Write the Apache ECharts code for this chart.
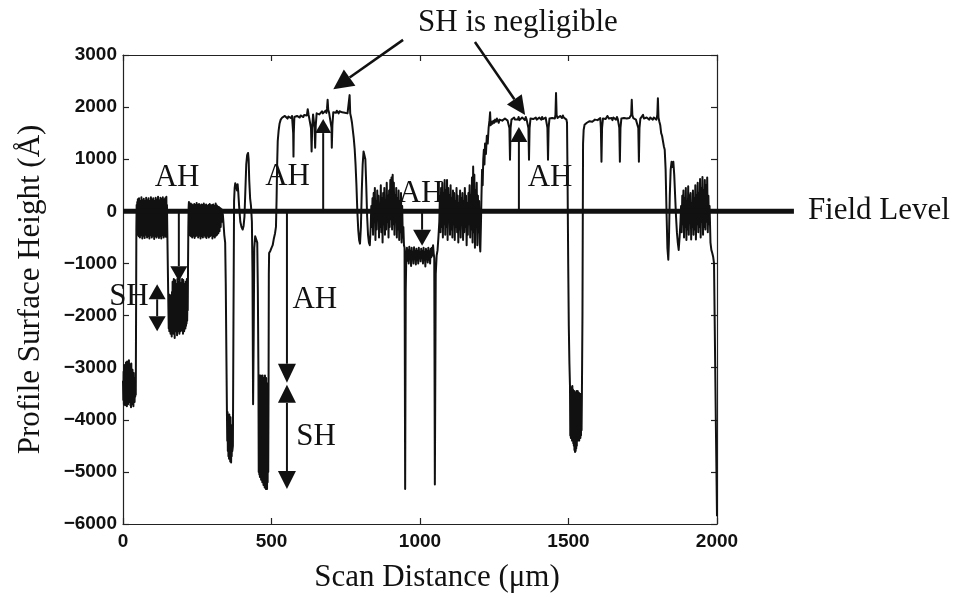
<!DOCTYPE html>
<html>
<head>
<meta charset="utf-8">
<script src="https://cdn.jsdelivr.net/npm/echarts@6/dist/echarts.min.js"></script>
<style>
  html, body { margin: 0; padding: 0; background: #fff; }
  #chart { width: 956px; height: 598px; }
</style>
</head>
<body>
<div id="chart"></div>
<script>
// Surface profile: [scan distance (µm), height (Å)], one array per stretch of the scan.
const leftPit = [
  [0,-3250],[1,-3620],[2,-3080],[3,-3700],[4,-2950],[5,-3560],[6,-3120],[7,-3720],[8,-3020],[9,-3600],
  [10,-2900],[11,-3680],[12,-3100],[13,-3740],[14,-2880],[15,-3580],[16,-3050],[17,-3700],[18,-2980],[19,-3520],
  [20,-2860],[21,-3660],[22,-3120],[23,-3600],[24,-2940],[25,-3720],[26,-3060],[27,-3760],[28,-2920],[29,-3600],
  [30,-3140],[31,-3700],[32,-3040],[33,-3640],[34,-3180],[35,-3740],[36,-3100],[37,-3600],[38,-3200],[39,-3660],
  [40,-3240],[41,-3560],[42,-3300],[43,-3520],[44,-2000],[45,-300],[46,120]
];
const firstBand = [
  [47,-380],[48,180],[49,-450],[50,230],[51,-320],[52,140],[53,-480],[54,250],[55,-360],[56,160],
  [57,-500],[58,200],[59,-300],[60,120],[61,-460],[62,270],[63,-380],[64,150],[65,-520],[66,210],
  [67,-340],[68,130],[69,-470],[70,240],[71,-400],[72,160],[73,-510],[74,200],[75,-330],[76,140],
  [77,-450],[78,260],[79,-390],[80,170],[81,-500],[82,210],[83,-350],[84,120],[85,-480],[86,250],
  [87,-410],[88,150],[89,-520],[90,200],[91,-360],[92,160],[93,-460],[94,270],[95,-380],[96,140],
  [97,-500],[98,220],[99,-340],[100,150],[101,-470],[102,250],[103,-400],[104,170],[105,-530],[106,200],
  [107,-350],[108,130],[109,-480],[110,260],[111,-390],[112,160],[113,-500],[114,220],[115,-360],[116,140],
  [117,-470],[118,280],[119,-420],[120,170],[121,-510],[122,210],[123,-340],[124,150],[125,-480],[126,260],
  [127,-400],[128,160],[129,-520],[130,230],[131,-370],[132,140],[133,-460],[134,270],[135,-390],[136,180],
  [137,-500],[138,220],[139,-350],[140,150],[141,-470],[142,250],[143,-410],[144,170],[145,-490],[146,280],
  [147,-380],[148,120],[149,-300],[150,-700],[151,-1100],[152,-1500],[153,-1900]
];
const shallowPit = [
  [154,-2250],[155,-1650],[156,-2300],[157,-1600],[158,-2200],[159,-1700],[160,-2350],[161,-1620],[162,-2250],[163,-1680],
  [164,-2400],[165,-1550],[166,-2300],[167,-1350],[168,-2200],[169,-1600],[170,-2350],[171,-1300],[172,-2250],[173,-1650],
  [174,-2430],[175,-1320],[176,-2200],[177,-1600],[178,-2300],[179,-1400],[180,-2250],[181,-1650],[182,-2380],[183,-1300],
  [184,-2200],[185,-1700],[186,-2300],[187,-1350],[188,-2250],[189,-1620],[190,-2350],[191,-1300],[192,-2150],[193,-1650],
  [194,-2300],[195,-1380],[196,-2200],[197,-1700],[198,-2280],[199,-1300],[200,-2250],[201,-1600],[202,-2350],[203,-1320],
  [204,-2200],[205,-1650],[206,-2300],[207,-1400],[208,-2150],[209,-1700],[210,-2250],[211,-1350],[212,-2200],[213,-1600],
  [214,-2150],[215,-1300],[216,-2100],[217,-1650],[218,-1900],[219,-1000],[220,-300],[221,80],[222,180]
];
const secondBand = [
  [223,-350],[224,120],[225,-460],[226,90],[227,-300],[228,150],[229,-480],[230,60],[231,-380],[232,130],
  [233,-500],[234,80],[235,-340],[236,110],[237,-470],[238,40],[239,-400],[240,140],[241,-510],[242,70],
  [243,-360],[244,120],[245,-480],[246,90],[247,-320],[248,160],[249,-460],[250,50],[251,-390],[252,120],
  [253,-500],[254,80],[255,-350],[256,140],[257,-470],[258,60],[259,-410],[260,110],[261,-520],[262,90],
  [263,-340],[264,130],[265,-480],[266,40],[267,-380],[268,120],[269,-500],[270,70],[271,-360],[272,150],
  [273,-460],[274,80],[275,-330],[276,110],[277,-490],[278,60],[279,-400],[280,130],[281,-510],[282,90],
  [283,-350],[284,100],[285,-470],[286,50],[287,-390],[288,120],[289,-500],[290,80],[291,-340],[292,140],
  [293,-480],[294,70],[295,-370],[296,110],[297,-460],[298,40],[299,-410],[300,120],[301,-520],[302,90],
  [303,-360],[304,130],[305,-480],[306,60],[307,-390],[308,100],[309,-500],[310,80],[311,-350],[312,150],
  [313,-470],[314,70],[315,-380],[316,110],[317,-450],[318,60],[319,-300],[320,90],[321,-420],[322,50],
  [323,-250],[324,80],[325,-380],[326,30],[327,-200],[328,60],[329,-300],[330,20],[331,-150],[332,40],
  [333,-200],[334,0],[335,-100],[336,-50]
];
const deepTrenches = [
  [338,-200],[341,-450],[344,-600],[346,-1400],[348,-2700],[350,-3900],[351,-4400],[352,-3850],[353,-4600],[354,-3900],
  [355,-4700],[356,-3950],[357,-4750],[358,-3900],[359,-4650],[360,-4000],[361,-4800],[362,-3950],[363,-4750],[364,-4820],
  [365,-4100],[366,-4700],[367,-4300],[368,-4600],[370,-4500],[372,-2000],[374,200],[376,450],[378,540],[380,560],
  [382,450],[384,400],[386,520],[388,380],[391,100],[395,-200],[399,-300],[403,-350],[406,-280],[409,-100],
  [412,400],[415,900],[418,1080],[421,1120],[423,1000],[425,600],[428,250],[431,100],[434,-200],[436,-1200],
  [438,-3700],[440,-2400],[442,-700],[445,-480],[449,-500],[452,-600],[454,-1500],[456,-3100],[457,-5000],
  [458,-3200],[459,-5050],[460,-3150],[461,-5100],[462,-3250],[463,-5000],[464,-3150],[465,-5150],[466,-3300],[467,-5100],
  [468,-3200],[469,-5200],[470,-3150],[471,-5150],[472,-3250],[473,-5250],[474,-3200],[475,-5200],[476,-3300],[477,-5300],
  [478,-3150],[479,-5250],[480,-3250],[481,-5330],[482,-3200],[483,-5280],[484,-3300],[485,-5330],[486,-3400],[487,-5200],
  [488,-4000],[489,-5000],[490,-3500],[491,-1200],[492,-800],[496,-760],[500,-700],[504,-650],[508,-520],[512,-420],
  [515,-300],[517,200],[519,900],[521,1350],[524,1550],[527,1680],[531,1760],[536,1800]
];
const plateauOne = [
  [539,1820],[542,1790],[545,1830],[548,1800],[551,1840],[554,1780],[557,1820],[560,1800],[563,1850],[566,1790],
  [569,1830],[571,1800],[573,1500],[574,1050],[575,1500],[577,1810],[580,1840],[583,1790],[586,1830],[589,1810],
  [592,1860],[595,1800],[598,1840],[601,1820],[604,1870],[607,1810],[610,1850],[613,1830],[616,1880],[619,1840],
  [622,1960],[625,1850],[628,1880],[631,1830],[633,1600],[635,1150],[637,1600],[640,1860],[643,1830],[645,1600],
  [647,1220],[649,1650],[652,1880],[655,1850],[658,1900],[661,1860],[664,1890],[667,1870],[670,1920],[673,1880],
  [676,1900],[679,1860],[682,1930],[685,1890],[687,1980],[689,2140],[691,1950],[694,1890],[697,1920],[700,1870],
  [702,1600],[703,1220],[705,1650],[708,1900],[711,1880],[714,1920],[717,1890],[720,1930],[723,1900],[726,1880],
  [729,1920],[732,1890],[735,1930],[738,1900],[741,1880],[744,1910],[747,1890],[750,1920],[753,1900],[756,1880],
  [759,1910],[761,1890],[763,2230],[765,1880],[768,1800],[771,1700],[774,1550],[777,1400],[780,1200],[783,900],
  [786,500],[789,0],[792,-350],[795,-550],[798,-620],[801,-300],[804,400],[807,900],[810,1150],[813,1180],
  [816,1000],[819,500],[822,-100],[825,-450],[828,-600],[831,-650],[834,-300]
];
const roughOne = [
  [836,100],[838,-300],[840,250],[842,-450],[844,350],[846,-200],[848,450],[850,-550],[852,200],[854,-350],
  [856,400],[858,-150],[860,300],[862,-500],[864,150],[866,-300],[868,500],[870,-400],[872,250],[874,-600],
  [876,350],[878,-250],[880,450],[882,-450],[884,200],[886,-350],[888,550],[890,-200],[892,300],[894,-500],
  [896,400],[898,-300],[900,600],[902,-150],[904,650],[906,-350],[908,700],[910,-250],[912,550],[914,-450],
  [916,300],[918,-200],[920,450],[922,-500],[924,250],[926,-350],[928,400],[930,-550],[932,200],[934,-400],
  [936,350],[938,-600],[940,100],[942,-500],[944,-300],[946,-650],[948,-700],[950,-5330],[952,-1500],[954,-800]
];
const middlePit = [
  [956,-700],[958,-950],[960,-750],[962,-1000],[964,-680],[966,-900],[968,-760],[970,-1050],[972,-700],[974,-920],
  [976,-780],[978,-1000],[980,-690],[982,-880],[984,-760],[986,-1020],[988,-720],[990,-940],[992,-770],[994,-1000],
  [996,-700],[998,-900],[1000,-780],[1002,-960],[1004,-720],[1006,-880],[1008,-760],[1010,-1000],[1012,-700],[1014,-920],
  [1016,-780],[1018,-1060],[1020,-720],[1022,-900],[1024,-760],[1026,-980],[1028,-700],[1030,-930],[1032,-770],[1034,-1000],
  [1036,-720],[1038,-880],[1040,-700],[1042,-850],[1044,-650],[1046,-800],[1048,-900],[1050,-5240],[1053,-1200],[1056,-850],
  [1059,-750],[1062,-500],[1065,-200]
];
const roughTwo = [
  [1067,300],[1069,-400],[1071,450],[1073,-300],[1075,550],[1077,-500],[1079,350],[1081,-250],[1083,600],[1085,-450],
  [1087,400],[1089,-300],[1091,600],[1093,-550],[1095,450],[1097,-200],[1099,300],[1101,-450],[1103,500],[1105,-350],
  [1107,250],[1109,-500],[1111,400],[1113,-250],[1115,350],[1117,-550],[1119,200],[1121,-300],[1123,450],[1125,-400],
  [1127,300],[1129,-600],[1131,150],[1133,-350],[1135,400],[1137,-500],[1139,250],[1141,-200],[1143,350],[1145,-550],
  [1147,200],[1149,-400],[1151,450],[1153,-300],[1155,300],[1157,-650],[1159,150],[1161,-450],[1163,350],[1165,-250],
  [1167,500],[1169,-500],[1171,300],[1173,-350],[1175,650],[1177,-600],[1179,860],[1181,-400],[1183,700],[1185,-700],
  [1187,400],[1189,-300],[1191,550],[1193,-650],[1195,300],[1197,-400],[1199,200],[1201,-600],[1203,-770],[1205,-300],
  [1207,300],[1209,800],[1211,500],[1213,1000],[1215,1180],[1217,900],[1219,1300],[1222,1100],[1225,1450],[1228,1300],
  [1231,1600],[1234,1750],[1236,1900],[1238,1650],[1241,1720],[1244,1680]
];
const plateauTwo = [
  [1247,1740],[1250,1700],[1253,1760],[1256,1720],[1259,1780],[1262,1740],[1265,1700],[1268,1760],[1271,1730],[1274,1790],
  [1277,1740],[1280,1760],[1283,1720],[1286,1780],[1289,1750],[1292,1800],[1295,1740],[1298,1770],[1301,1600],[1303,990],
  [1305,1600],[1308,1760],[1311,1790],[1314,1740],[1317,1800],[1320,1760],[1323,1730],[1326,1790],[1329,1760],[1332,1810],
  [1335,1750],[1338,1780],[1341,1740],[1344,1800],[1347,1770],[1350,1790],[1353,1750],[1356,1810],[1359,1760],[1362,1780],
  [1365,1600],[1367,990],[1369,1600],[1372,1780],[1375,1750],[1378,1810],[1381,1770],[1384,1790],[1387,1750],[1390,1800],
  [1393,1760],[1396,1780],[1399,1740],[1402,1800],[1405,1770],[1408,1760],[1411,1810],[1414,1770],[1417,1790],[1420,1750],
  [1423,1800],[1426,1770],[1429,1600],[1431,990],[1433,1600],[1436,1780],[1439,1800],[1442,1760],[1445,1790],[1448,1770],
  [1451,1810],[1454,1780],[1456,1850],[1458,2270],[1460,1850],[1463,1790],[1466,1820],[1469,1780],[1472,1830],[1475,1800],
  [1478,1790],[1481,1840],[1484,1800],[1487,1820],[1490,1790],[1493,1760]
];
const wellPit = [
  [1495,1700],[1497,500],[1499,-1000],[1501,-2200],[1503,-2900],[1505,-3350],[1506,-4300],[1507,-3400],[1508,-4350],[1509,-3380],
  [1510,-4300],[1511,-3400],[1512,-4400],[1513,-3350],[1514,-4350],[1515,-3420],[1516,-4450],[1517,-3500],[1518,-4500],[1519,-3450],
  [1520,-4580],[1521,-3500],[1522,-4620],[1523,-3480],[1524,-4600],[1525,-3500],[1526,-4550],[1527,-3450],[1528,-4500],[1529,-3480],
  [1530,-4400],[1531,-3450],[1532,-4380],[1533,-3500],[1534,-4350],[1535,-3480],[1536,-4400],[1537,-3500],[1538,-4300],[1539,-3520],
  [1540,-4350],[1541,-3550],[1542,-4300],[1543,-3500],[1544,-4200],[1545,-3600],[1547,-2000],[1549,1300],[1551,1560],[1554,1660],
  [1558,1680],[1562,1700]
];
const plateauThree = [
  [1565,1720],[1568,1690],[1571,1730],[1574,1700],[1577,1750],[1580,1720],[1583,1740],[1586,1710],[1589,1760],[1592,1740],
  [1595,1790],[1598,1750],[1601,1780],[1604,1740],[1607,1790],[1609,1600],[1611,950],[1613,1600],[1616,1780],[1619,1760],
  [1622,1800],[1625,1770],[1628,1790],[1631,1830],[1633,1850],[1636,1780],[1639,1800],[1642,1760],[1645,1790],[1648,1750],
  [1651,1800],[1654,1770],[1657,1790],[1660,1760],[1663,1810],[1666,1770],[1669,1790],[1671,1600],[1673,950],[1675,1600],
  [1678,1780],[1681,1800],[1684,1760],[1687,1790],[1690,1770],[1693,1810],[1696,1780],[1699,1800],[1702,1770],[1705,1790],
  [1708,1760],[1711,1850],[1713,2140],[1715,1850],[1718,1790],[1721,1770],[1724,1800],[1727,1760],[1730,1790],[1733,1770],
  [1735,1600],[1737,950],[1739,1600],[1742,1780],[1745,1760],[1748,1800],[1751,1850],[1754,1780],[1757,1790],[1760,1760],
  [1763,1800],[1766,1770],[1769,1790],[1772,1760],[1775,1800],[1778,1770],[1781,1790],[1784,1760],[1787,1800],[1790,1770],
  [1793,1790],[1796,1760],[1799,1850],[1801,2170],[1803,1800],[1806,1720]
];
const rightEdge = [
  [1809,1650],[1812,1500],[1815,1450],[1818,1350],[1821,1250],[1824,1180],[1827,800],[1830,0],[1833,-700],[1836,-930],
  [1838,-600],[1841,300],[1844,800],[1847,950],[1850,850],[1853,950],[1856,700],[1859,300],[1862,-100],[1865,-400],
  [1868,-600],[1871,-740],[1874,-500],[1877,-200],
  [1879,100],[1881,-400],[1883,300],[1885,-250],[1887,400],[1889,-500],[1891,250],[1893,-300],[1895,450],[1897,-550],
  [1899,200],[1901,-350],[1903,480],[1905,-450],[1907,300],[1909,-200],[1911,350],[1913,-540],[1915,150],[1917,-300],
  [1919,400],[1921,-450],[1923,250],[1925,-350],[1927,500],[1929,-540],[1931,300],[1933,-250],[1935,550],[1937,-400],
  [1939,350],[1941,-300],[1943,620],[1945,-500],[1947,450],[1949,-200],[1951,660],[1953,-450],[1955,400],[1957,-300],
  [1959,600],[1961,-350],[1963,500],[1965,-200],[1967,650],[1969,-400],[1971,300],[1973,-250],[1975,100],
  [1978,-600],[1981,-740],[1984,-800],[1987,-870],[1990,-1000],[1993,-2500],[1996,-4000],[2000,-5850]
];

const xTicks = [0, 500, 1000, 1500, 2000];
const yTicks = [-6000, -5000, -4000, -3000, -2000, -1000, 0, 1000, 2000, 3000];

// Annotation anchors in data units [µm, Å]
const fieldLevel = { from: [0, 0], to: [2259, 0], label: 'Field Level', labelAt: [2306, 0] };
const labels = [
  { text: 'AH', at: [182, 645] },
  { text: 'SH', at: [20, -1650] },
  { text: 'AH', at: [554, 655] },
  { text: 'AH', at: [646, -1690] },
  { text: 'SH', at: [650, -4320] },
  { text: 'AH', at: [1003, 330] },
  { text: 'AH', at: [1438, 645] }
];
// arrows: tail -> tip, both: heads on both ends
const arrows = [
  { from: [188, 0], to: [188, -1340], w: 17, h: 15 },
  { from: [115, -1400], to: [115, -2300], w: 17, h: 15, both: true },
  { from: [552, 0], to: [552, -3290], w: 18, h: 19 },
  { from: [552, -3330], to: [552, -5330], w: 18, h: 18, both: true },
  { from: [674, 0], to: [674, 1770], w: 16, h: 14 },
  { from: [1007, 0], to: [1007, -660], w: 18, h: 16 },
  { from: [1333, 0], to: [1333, 1620], w: 17, h: 15 },
  { from: [943, 3290], to: [708, 2345], w: 20, h: 20, lw: 2.5 },
  { from: [1185, 3250], to: [1354, 1850], w: 18, h: 19, lw: 2.5 }
];
const title = 'SH is negligible';

const profile = [].concat(leftPit, firstBand, shallowPit, secondBand, deepTrenches, plateauOne,
  roughOne, middlePit, roughTwo, plateauTwo, wellPit, plateauThree, rightEdge);

const SERIF = '"Liberation Serif", "Times New Roman", serif';
const SANS = '"Liberation Sans", Arial, sans-serif';
const minus = v => String(v).replace('-', '\u2212');

// shared styling for the four sides of the box
const frameAxis = () => ({
  axisLine: { show: true, onZero: false, lineStyle: { color: '#222', width: 1.2 } },
  axisTick: { show: true, inside: true, length: 6, lineStyle: { color: '#222', width: 1.2 } },
  splitLine: { show: false }
});

const chart = echarts.init(document.getElementById('chart'), null, { renderer: 'canvas' });
chart.setOption({
  animation: false,
  backgroundColor: '#fff',
  title: {
    text: title, left: 413, top: 2,
    textStyle: { fontFamily: SERIF, fontSize: 31, fontWeight: 'normal', color: '#111' }
  },
  grid: { left: 123, right: 239, top: 55, bottom: 73, containLabel: false },
  xAxis: [
    Object.assign(frameAxis(), {
      type: 'value', position: 'bottom', min: xTicks[0], max: xTicks[xTicks.length - 1], interval: 500,
      name: 'Scan Distance (\u03bcm)', nameLocation: 'middle', nameGap: 38,
      nameTextStyle: { fontFamily: SERIF, fontSize: 31, color: '#111', padding: [0, 0, 0, 34] },
      axisLabel: { fontFamily: SANS, fontWeight: 'bold', fontSize: 19, color: '#111', margin: 8, formatter: minus }
    }),
    Object.assign(frameAxis(), {
      type: 'value', position: 'top', min: xTicks[0], max: xTicks[xTicks.length - 1], interval: 500,
      axisLabel: { show: false }
    })
  ],
  yAxis: [
    Object.assign(frameAxis(), {
      type: 'value', position: 'left', min: yTicks[0], max: yTicks[yTicks.length - 1], interval: 1000,
      name: 'Profile Surface Height (\u00c5)', nameLocation: 'middle', nameGap: 77, nameRotate: 90,
      nameTextStyle: { fontFamily: SERIF, fontSize: 31, color: '#111' },
      axisLabel: { fontFamily: SANS, fontWeight: 'bold', fontSize: 19, color: '#111', margin: 6, formatter: minus }
    }),
    Object.assign(frameAxis(), {
      type: 'value', position: 'right', min: yTicks[0], max: yTicks[yTicks.length - 1], interval: 1000,
      axisLabel: { show: false }
    })
  ],
  series: [{
    type: 'line',
    data: profile,
    xAxisIndex: 0, yAxisIndex: 0,
    showSymbol: false, symbol: 'none',
    sampling: null,
    lineStyle: { color: '#111', width: 2, join: 'round' },
    z: 2
  }]
});

// Annotations placed from data coordinates
const px = p => chart.convertToPixel({ seriesIndex: 0 }, p);

function head(tip, dir, w, h) {
  const bx = tip[0] - dir[0] * h, by = tip[1] - dir[1] * h;
  const nx = -dir[1], ny = dir[0];
  return {
    type: 'polygon', z: 20,
    shape: { points: [tip, [bx + nx * w / 2, by + ny * w / 2], [bx - nx * w / 2, by - ny * w / 2]] },
    style: { fill: '#111' }
  };
}

const graphics = [];
{
  const a = px(fieldLevel.from), b = px(fieldLevel.to);
  graphics.push({ type: 'line', z: 15, shape: { x1: a[0], y1: a[1], x2: b[0], y2: b[1] },
    style: { stroke: '#111', lineWidth: 5 } });
  const t = px(fieldLevel.labelAt);
  graphics.push({ type: 'text', z: 20, x: t[0], y: t[1],
    style: { text: fieldLevel.label, font: '31px ' + SERIF, fill: '#111', align: 'left', verticalAlign: 'middle' } });
}
labels.forEach(l => {
  const p = px(l.at);
  graphics.push({ type: 'text', z: 20, x: p[0], y: p[1],
    style: { text: l.text, font: '31px ' + SERIF, fill: '#111', align: 'center', verticalAlign: 'middle' } });
});
arrows.forEach(ar => {
  const s = px(ar.from), e = px(ar.to);
  const len = Math.hypot(e[0] - s[0], e[1] - s[1]);
  const d = [(e[0] - s[0]) / len, (e[1] - s[1]) / len];
  const x1 = ar.both ? s[0] + d[0] * ar.h : s[0], y1 = ar.both ? s[1] + d[1] * ar.h : s[1];
  graphics.push({ type: 'line', z: 18,
    shape: { x1: x1, y1: y1, x2: e[0] - d[0] * ar.h, y2: e[1] - d[1] * ar.h },
    style: { stroke: '#111', lineWidth: ar.lw || 2 } });
  graphics.push(head(e, d, ar.w, ar.h));
  if (ar.both) graphics.push(head(s, [-d[0], -d[1]], ar.w, ar.h));
});
chart.setOption({ graphic: graphics });
</script>
</body>
</html>
